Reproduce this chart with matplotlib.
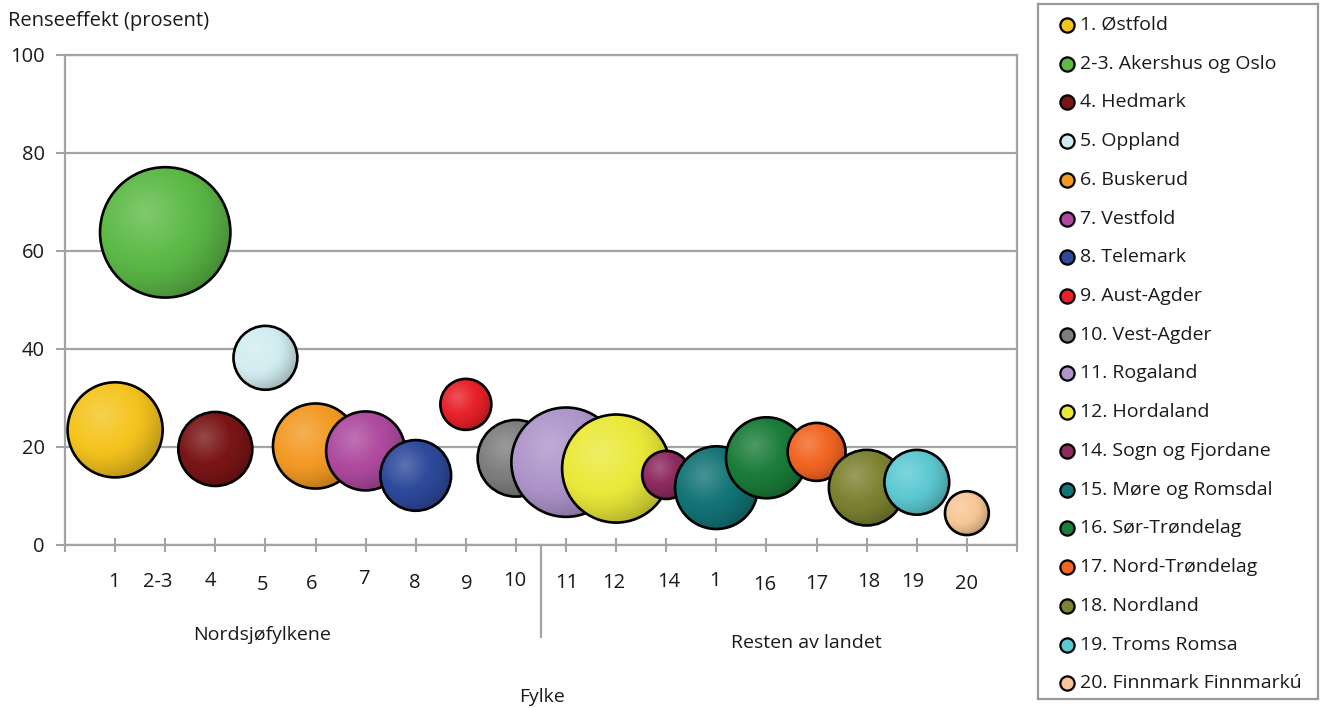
import numpy as np
import matplotlib
matplotlib.use("Agg")
import matplotlib.pyplot as plt
from matplotlib.patches import Ellipse
from matplotlib.colors import to_rgb

plt.rcParams["font.family"] = ["Open Sans", "DejaVu Sans"]

# Fylker, renseeffekt (prosent) og relativ boblestørrelse
tick_labels = ["1", "2-3", "4", "5", "6", "7", "8", "9", "10",
               "11", "12", "14", "1", "16", "17", "18", "19", "20"]
names = ["1. Østfold", "2-3. Akershus og Oslo", "4. Hedmark", "5. Oppland",
         "6. Buskerud", "7. Vestfold", "8. Telemark", "9. Aust-Agder",
         "10. Vest-Agder", "11. Rogaland", "12. Hordaland",
         "14. Sogn og Fjordane", "15. Møre og Romsdal", "16. Sør-Trøndelag",
         "17. Nord-Trøndelag", "18. Nordland", "19. Troms Romsa",
         "20. Finnmark Finnmarkú"]
effect = [23.5, 63.8, 19.6, 38.2, 20.2, 19.2, 14.2, 28.7, 17.7,
          16.9, 15.6, 14.3, 11.7, 17.8, 19.0, 11.7, 12.8, 6.5]
bubble_size = [226, 425, 137, 102, 181, 156, 125, 65, 147,
               299, 292, 58, 171, 164, 84, 143, 105, 48]
colors = ["#F5C41E", "#5DBA47", "#7A1517", "#D2EDF1", "#F39A24", "#AE4A9F",
          "#2E4A9C", "#E8212A", "#7E7E7E", "#AE95CB", "#EAE93A", "#8C2A5E",
          "#137476", "#1B7D3A", "#F26522", "#7D8231", "#5DC9D2", "#F8C797"]

W, H = 1323, 708
GRID = "#A3A3A3"
TXT = "#1a1a1a"

fig = plt.figure(figsize=(W / 100, H / 100), dpi=100)
ax = fig.add_axes([65 / W, (H - 545) / H, (1017 - 65) / W, (545 - 55) / H])
ax.set_xlim(0, 19)
ax.set_ylim(0, 100)

# pixels per data unit, used to keep the bubbles round on screen
px_x = (1017 - 65) / 19
px_y = (545 - 55) / 100


def shaded(base, n=160):
    """Radial gradient with a highlight up and to the left."""
    base = np.array(to_rgb(base))
    light = base + (1 - base) * 0.22
    dark = base * 0.74
    u = np.linspace(-1, 1, n)
    uu, vv = np.meshgrid(u, u)
    hx, hy = -0.3, 0.3
    d = np.hypot(uu - hx, vv - hy) / (1 + np.hypot(hx, hy))
    d = np.clip(d, 0, 1)[..., None]
    t1 = np.clip(d / 0.5, 0, 1)
    t2 = np.clip((d - 0.5) / 0.5, 0, 1) ** 1.4
    img = light * (1 - t1) + base * t1
    img = img * (1 - t2) + dark * t2
    return img


for i, (y, s, c) in enumerate(zip(effect, bubble_size, colors)):
    x = i + 1
    r = np.sqrt(s * 10)
    rx, ry = r / px_x, r / px_y
    z = 3 + 2 * i
    circ = Ellipse((x, y), 2 * rx, 2 * ry, facecolor="none",
                   edgecolor="black", lw=1.9, zorder=z + 1)
    ax.add_patch(circ)
    im = ax.imshow(shaded(c), extent=[x - rx, x + rx, y - ry, y + ry],
                   origin="lower", aspect="auto", interpolation="bilinear",
                   zorder=z)
    im.set_clip_path(circ)

ax.set_xlim(0, 19)
ax.set_ylim(0, 100)

# axes, grid and ticks
for side in ["left", "right", "bottom", "top"]:
    ax.spines[side].set_color(GRID)
    ax.spines[side].set_linewidth(1.6)
ax.set_yticks(range(0, 101, 20))
ax.yaxis.grid(True, color=GRID, lw=1.6, zorder=0)
ax.set_axisbelow(True)
ax.tick_params(axis="y", direction="out", length=6.5, width=1.5,
               color=GRID, pad=8, labelsize=14.5, labelcolor=TXT)
ax.set_xticks(range(0, 20))
ax.tick_params(axis="x", direction="inout", length=10, width=1.5,
               color=GRID, labelbottom=False)

# category labels under the ticks
label_dx = [-1, -7, -5, -3, -3.5, -2, -1, 1, -1, 1, -2, 2, -1, -2, 0, 2, -4, 0]
label_y = [581.7, 581.7, 581, 585, 584, 579, 583, 584, 580.7,
           583, 583, 582, 581, 585, 584, 582, 582, 584]
for i, lab in enumerate(tick_labels):
    ax.annotate(lab, xy=(i + 1, 0), xytext=(label_dx[i] * 0.72, -(label_y[i] - 545) * 0.72),
                textcoords="offset points", ha="center", va="center",
                fontsize=14.5, color=TXT, annotation_clip=False)

# divider between the two groups
ax.plot([9.5, 9.5], [0, -(637 - 545) / px_y], color=GRID, lw=1.6,
        clip_on=False, zorder=2)

fig.text(8 / W, 1 - 21 / H, "Renseeffekt (prosent)", ha="left", va="center",
         fontsize=14.5, color=TXT)
fig.text(262.5 / W, 1 - 635 / H, "Nordsjøfylkene", ha="center", va="center",
         fontsize=14, color=TXT)
fig.text(806.7 / W, 1 - 643 / H, "Resten av landet", ha="center", va="center",
         fontsize=14, color=TXT)
fig.text(542 / W, 1 - 697 / H, "Fylke", ha="center", va="center",
         fontsize=14, color=TXT)

# legend box
lax = fig.add_axes([1038 / W, (H - 699) / H, (1318 - 1038) / W, (699 - 4) / H])
lax.set_xlim(1038, 1318)
lax.set_ylim(699, 4)
lax.set_xticks([])
lax.set_yticks([])
for side in lax.spines.values():
    side.set_color("#9A9A9A")
    side.set_linewidth(1.6)
for i, (name, c) in enumerate(zip(names, colors)):
    yy = 25 + 38.72 * i
    lax.scatter([1067], [yy], s=105, color=c, edgecolors="black",
                linewidths=1.6, zorder=3)
    lax.text(1080, yy, name, ha="left", va="center", fontsize=14, color=TXT)

fig.savefig("out.png", dpi=100)
